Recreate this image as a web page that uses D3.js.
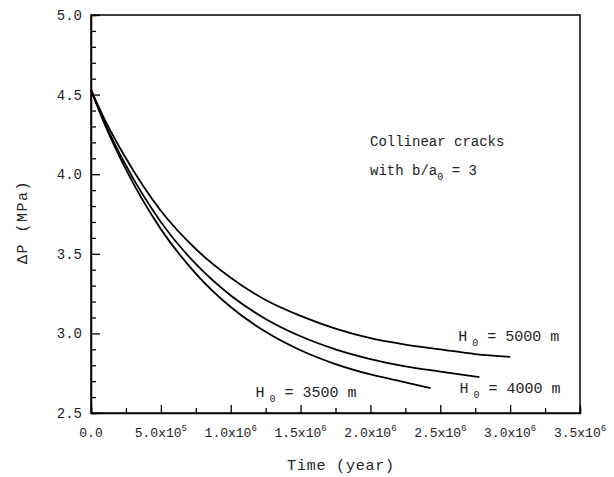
<!DOCTYPE html>
<html>
<head>
<meta charset="utf-8">
<script src="https://cdn.jsdelivr.net/npm/d3@7"></script>
<style>
  body { margin: 0; background: #fff; }
  svg text { font-family: "Liberation Mono", "DejaVu Sans Mono", monospace; fill: #222; }
</style>
</head>
<body>
<div id="chart"></div>
<script>
// time in years, pressure drop in MPa
const time3500 = [0, 1e5, 2.5e5, 5e5, 7.5e5, 1e6, 1.25e6, 1.5e6, 1.75e6, 2e6, 2.25e6, 2.43e6]
const dp3500   = [4.53, 4.31, 4.03, 3.655, 3.376, 3.166, 3.01, 2.894, 2.807, 2.742, 2.693, 2.657]

const time4000 = [0, 1e5, 2.5e5, 5e5, 7.5e5, 1e6, 1.25e6, 1.5e6, 1.75e6, 2e6, 2.25e6, 2.5e6, 2.78e6]
const dp4000   = [4.53, 4.32, 4.055, 3.70, 3.436, 3.238, 3.091, 2.982, 2.90, 2.839, 2.793, 2.76, 2.725]

const time5000 = [0, 1e5, 2.5e5, 5e5, 7.5e5, 1e6, 1.25e6, 1.5e6, 1.75e6, 2e6, 2.25e6, 2.5e6, 2.75e6, 3e6]
const dp5000   = [4.53, 4.34, 4.10, 3.77, 3.53, 3.35, 3.21, 3.11, 3.03, 2.97, 2.93, 2.90, 2.87, 2.852]

const xTicks = [0, 5e5, 1e6, 1.5e6, 2e6, 2.5e6, 3e6, 3.5e6]
const xTickText = [['0.0', ''], ['5.0x10', '5'], ['1.0x10', '6'], ['1.5x10', '6'], ['2.0x10', '6'], ['2.5x10', '6'], ['3.0x10', '6'], ['3.5x10', '6']]
const yTicks = [2.5, 3.0, 3.5, 4.0, 4.5, 5.0]

const labels = [
    {h: '5000', t: 3.0e6, v: 2.85, dx: -52, dy: -16},
    {h: '4000', t: 2.78e6, v: 2.72, dx: -20, dy: 15},
    {h: '3500', t: 2.43e6, v: 2.657, dx: -175, dy: 9}
]

const W = 614, H = 477
const m = {left: 91, top: 15, right: 34, bottom: 64}

const svg = d3.select('div#chart')
    .append('svg')
    .attr('width', W)
    .attr('height', H)

const x = d3.scaleLinear().domain([0, 3.5e6]).range([m.left, W - m.right])
const y = d3.scaleLinear().domain([2.5, 5.0]).range([H - m.bottom, m.top])

// frame
svg.append('rect')
    .attr('x', x(0)).attr('y', y(5))
    .attr('width', x(3.5e6) - x(0)).attr('height', y(2.5) - y(5))
    .attr('fill', 'none').attr('stroke', '#000').attr('stroke-width', 1.5)

// y axis ticks (inward)
const yAxis = d3.axisLeft(y).tickValues(d3.range(25, 51).map(d => d / 10))
    .tickSize(-5).tickFormat('')
const gy = svg.append('g').attr('transform', `translate(${x(0)},0)`).call(yAxis)
gy.selectAll('.tick line').filter(d => yTicks.some(v => Math.abs(v - d) < 1e-9)).attr('x2', 9)
gy.select('.domain').attr('stroke-width', 1.5)
gy.selectAll('.tick line').attr('stroke-width', 1.3)

svg.selectAll('text.ylab')
    .data(yTicks)
    .enter()
    .append('text')
    .attr('class', 'ylab')
    .attr('x', x(0) - 9)
    .attr('y', d => y(d) + 5)
    .attr('text-anchor', 'end')
    .style('font-size', '14px')
    .text(d => d.toFixed(1))

// x axis ticks (inward)
const xAxis = d3.axisBottom(x).tickValues(d3.range(0, 15).map(d => d * 2.5e5))
    .tickSize(-5).tickFormat('')
const gx = svg.append('g').attr('transform', `translate(0,${y(2.5)})`).call(xAxis)
gx.selectAll('.tick line').filter((d, i) => i % 2 === 0).attr('y2', -8)
gx.select('.domain').attr('stroke-width', 1.5)
gx.selectAll('.tick line').attr('stroke-width', 1.3)

const xl = svg.selectAll('text.xlab')
    .data(xTicks)
    .enter()
    .append('text')
    .attr('class', 'xlab')
    .attr('x', d => x(d))
    .attr('y', 437)
    .attr('text-anchor', 'middle')
    .style('font-size', '13px')
xl.append('tspan').text((d, i) => xTickText[i][0])
xl.append('tspan').attr('dy', -6).style('font-size', '9px').text((d, i) => xTickText[i][1])

// axis titles
svg.append('text')
    .attr('x', 341).attr('y', 470)
    .attr('text-anchor', 'middle')
    .style('font-size', '15px')
    .style('letter-spacing', '0.8px')
    .text('Time (year)')

svg.append('text')
    .attr('transform', 'translate(27,222) rotate(-90)')
    .attr('text-anchor', 'middle')
    .style('font-size', '15px')
    .style('letter-spacing', '1.5px')
    .text('ΔP (MPa)')

// curves
const line = d3.line()
    .x(d => x(d[0]))
    .y(d => y(d[1]))
    .curve(d3.curveMonotoneX)

const series = [
    d3.zip(time3500, dp3500),
    d3.zip(time4000, dp4000),
    d3.zip(time5000, dp5000)
]

svg.selectAll('path.curve')
    .data(series)
    .enter()
    .append('path')
    .attr('class', 'curve')
    .attr('d', line)
    .attr('fill', 'none')
    .attr('stroke', '#000')
    .attr('stroke-width', 1.8)

// curve labels
labels.forEach(l => {
    const t = svg.append('text')
        .attr('x', x(l.t) + l.dx)
        .attr('y', y(l.v) + l.dy)
        .style('font-size', '15px')
    t.append('tspan').text('H')
    t.append('tspan').attr('dy', 5).attr('dx', 5).style('font-size', '10px').text('0')
    t.append('tspan').attr('dy', -5).text(` = ${l.h} m`)
})

// annotation
svg.append('text')
    .attr('x', 370).attr('y', 146)
    .style('font-size', '14px')
    .text('Collinear cracks')

const ann = svg.append('text')
    .attr('x', 370).attr('y', 175)
    .style('font-size', '14px')
ann.append('tspan').text('with b/a')
ann.append('tspan').attr('dy', 5).style('font-size', '10px').text('0')
ann.append('tspan').attr('dy', -5).text(' = 3')
</script>
</body>
</html>
